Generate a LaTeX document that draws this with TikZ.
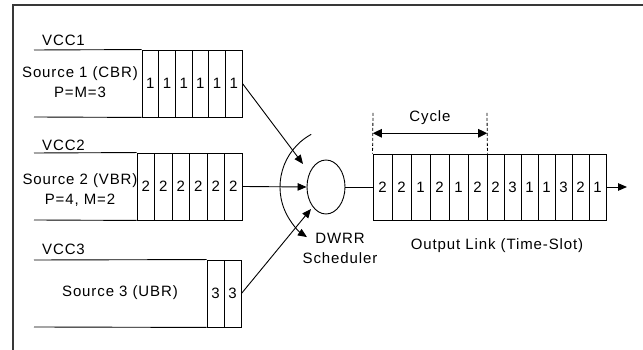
\documentclass[tikz,border=0pt]{standalone}
\usepackage{fontspec}
\setmainfont{Liberation Sans}[LetterSpace=6]
\usetikzlibrary{arrows.meta,shapes.geometric,calc}
\begin{document}
\begin{tikzpicture}[x=1pt,y=1pt,
  line width=0.9pt,
  every node/.style={font=\fontsize{15}{20}\selectfont, inner sep=0pt},
  cell/.style={draw, minimum height=67pt, inner sep=0pt},
  lbl/.style={align=center},
  tip/.style={-{Triangle[length=9pt,width=7.5pt]}},
  frameline/.style={draw=black!78, line width=1.5pt}]
\useasboundingbox (0,0) rectangle (643,350);

% outer frame (top and left edges)
\draw[frameline] (13,0) -- (13,345) -- (643,345);

% ---- VCC1 queue ----
\node (vcc1) at (63.5,310) {VCC1};
\foreach \i in {1,...,6}
  \node[cell, minimum width=16.67pt] (a\i) at ({142+8.33+(\i-1)*16.67},266.5) {1};
\coordinate (a0t) at (34,300);
\coordinate (a0b) at (34,233);
\draw (a0t) -- (a1.north west) (a0b) -- (a1.south west);
\node[lbl] (src1) at (80,268) {Source 1 (CBR)\\P=M=3};

% ---- VCC2 queue ----
\node (vcc2) at (63.5,205) {VCC2};
\foreach \i in {1,...,6}
  \node[cell, minimum width=17.5pt] (b\i) at ({137+8.75+(\i-1)*17.5},163.5) {2};
\coordinate (b0t) at (34,197);
\coordinate (b0b) at (34,130);
\draw (b0t) -- (b1.north west) (b0b) -- (b1.south west);
\node[lbl] (src2) at (80,160) {Source 2 (VBR)\\P=4, M=2};

% ---- VCC3 queue ----
\node (vcc3) at (63.5,101) {VCC3};
\foreach \i in {1,2}
  \node[cell, minimum width=17pt] (c\i) at ({207+8.5+(\i-1)*17},56.5) {3};
\coordinate (c0t) at (34,90);
\coordinate (c0b) at (34,23);
\draw (c0t) -- (c1.north west) (c0b) -- (c1.south west);
\node (src3) at (120,57) {Source 3 (UBR)};

% ---- scheduler ----
\node[draw, ellipse, minimum width=38pt, minimum height=54pt] (sched) at (326,163) {};
\node[lbl] (dwrr) at (340,102) {DWRR\\Scheduler};

% round-robin sweep
\coordinate (sweep) at ({340+60*cos(118.7)},{163+60*sin(118.7)});
\draw[tip] (sweep) arc[start angle=118.7, end angle=236.6, radius=60];

% inputs to the scheduler
\coordinate (in1) at (303,186);
\coordinate (in3) at (311,141);
\draw[tip] (a6.east) -- (in1);
\draw[tip] (b6.east) -- (sched.west);
\draw[tip] (c2.east) -- (in3);

% ---- output link ----
\foreach \l/\r/\d [count=\i] in {373/392/2, 392/411/2, 411/430/1, 430/449/2,
    449/468/1, 468/487/2, 487/504/2, 504/521/3, 521/538/1, 538/555/1,
    555/572/3, 572/589/2, 589/606/1}
  \node[cell, minimum width={(\r-\l)*1pt}, minimum height=66pt] (o\i) at ({(\l+\r)/2},163) {\d};
\draw (sched.east) -- (o1.west);
\coordinate (outend) at (627,163);
\draw[tip] (o13.east) -- (outend);
\node (olink) at (497,104) {Output Link (Time-Slot)};

% cycle marker
\coordinate (cyL) at (373,237);
\coordinate (cyR) at (487,237);
\draw[dashed, line width=0.8pt, dash pattern=on 3pt off 2pt] (cyL) -- (o1.north west);
\draw[dashed, line width=0.8pt, dash pattern=on 3pt off 2pt] (cyR) -- (o6.north east);
\draw[{Triangle[length=9pt,width=8.5pt]}-{Triangle[length=9pt,width=8.5pt]}]
  ($(cyL)!0.5!(o1.north west)$) -- ($(cyR)!0.5!(o6.north east)$);
\node (cycle) at (430,232) {Cycle};
\end{tikzpicture}
\end{document}
